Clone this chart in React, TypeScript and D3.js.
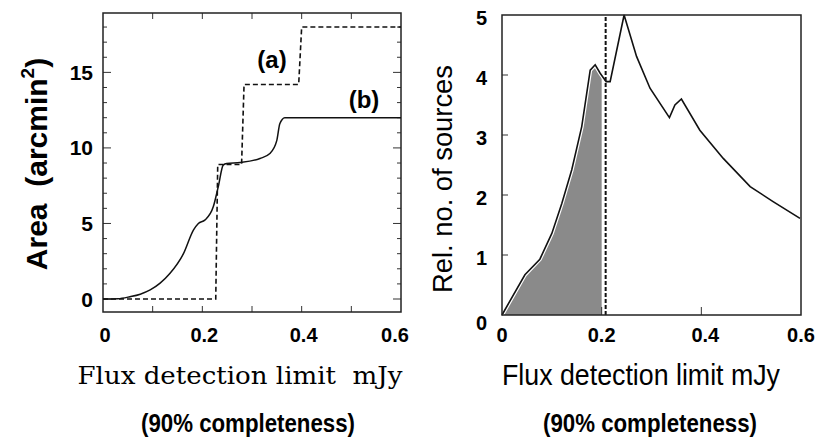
import React from "react";
import * as d3 from "d3";

// left panel: effective area vs flux limit
const bFlux = [0, 0.03, 0.054, 0.075, 0.095, 0.115, 0.135, 0.162, 0.182, 0.192, 0.205, 0.222, 0.232, 0.242, 0.249, 0.276, 0.316, 0.336, 0.35, 0.356, 0.366, 0.6];
const bArea = [0, 0.02, 0.15, 0.32, 0.6, 1.05, 1.7, 3.0, 4.56, 5.0, 5.22, 6.1, 7.42, 8.86, 8.97, 9.03, 9.3, 9.63, 10.5, 11.6, 12.0, 12.0];
const aFlux = [0, 0.227, 0.231, 0.279, 0.284, 0.394, 0.4, 0.6];
const aArea = [0, 0, 8.9, 8.9, 14.2, 14.2, 18.0, 18.0];
const leftXTicks = [0, 0.2, 0.4, 0.6];
const leftYTicks = [0, 5, 10, 15];

// right panel: relative number of sources
const relFlux = [0, 0.046, 0.076, 0.1, 0.12, 0.14, 0.16, 0.177, 0.187, 0.197, 0.209, 0.217, 0.245, 0.27, 0.297, 0.336, 0.347, 0.36, 0.397, 0.444, 0.498, 0.544, 0.598];
const relCount = [0, 0.67, 0.93, 1.36, 1.86, 2.42, 3.14, 4.08, 4.17, 4.03, 3.89, 3.89, 5.0, 4.31, 3.78, 3.29, 3.5, 3.6, 3.08, 2.61, 2.14, 1.89, 1.61];
const rightXTicks = [0, 0.2, 0.4, 0.6];
const rightYTicks = [0, 1, 2, 3, 4, 5];
const shadeEnd = 0.2;
const cutFlux = 0.208;

const sans = "'Liberation Sans', Arial, sans-serif";
const narrow = "'Liberation Sans Narrow', 'Liberation Sans', sans-serif";

export default function App() {
  const xL = d3.scaleLinear().domain([0, 0.6]).range([103, 401]);
  const yL = d3.scaleLinear().domain([-0.86, 18.93]).range([312, 13]);
  const xR = d3.scaleLinear().domain([0, 0.6]).range([502, 801]);
  const yR = d3.scaleLinear().domain([0, 5]).range([315, 15]);

  const bLine = d3
    .line<number>()
    .x((d, i) => xL(bFlux[i]))
    .y((d) => yL(d))
    .curve(d3.curveMonotoneX);
  const aLine = d3
    .line<number>()
    .x((d, i) => xL(aFlux[i]))
    .y((d) => yL(d));

  const relLine = d3
    .line<number>()
    .x((d, i) => xR(relFlux[i]))
    .y((d) => yR(d));
  const relArea = d3
    .area<number>()
    .x((d, i) => xR(relFlux[i]))
    .y0(yR(0))
    .y1((d) => yR(d));

  const minorY = d3.range(0, 19);
  const minorX = d3.range(1, 6).map((v) => v / 10);

  return (
    <svg width={815} height={437} style={{ display: "block", position: "absolute", left: 0, top: 0, background: "#fff" }}>
      <defs>
        <clipPath id="shade">
          <rect x={xR(0)} y={yR(5)} width={xR(shadeEnd) - xR(0)} height={yR(0) - yR(5)} />
        </clipPath>
      </defs>

      {/* ---------- left panel ---------- */}
      <g>
        {minorY.map((v) => {
          const len = v % 5 === 0 ? 8 : 4;
          return (
            <g key={"ly" + v} stroke="#333" strokeWidth={1}>
              <line x1={xL(0)} x2={xL(0) + len} y1={yL(v)} y2={yL(v)} />
              <line x1={xL(0.6)} x2={xL(0.6) - len} y1={yL(v)} y2={yL(v)} />
            </g>
          );
        })}
        {minorX.map((v) => (
          <g key={"lx" + v} stroke="#333" strokeWidth={1}>
            <line x1={xL(v)} x2={xL(v)} y1={yL.range()[0]} y2={yL.range()[0] - 6} />
            <line x1={xL(v)} x2={xL(v)} y1={yL.range()[1]} y2={yL.range()[1] + 6} />
          </g>
        ))}
        <rect x={xL(0)} y={yL.range()[1]} width={xL(0.6) - xL(0)} height={yL.range()[0] - yL.range()[1]} fill="none" stroke="#222" strokeWidth={1.5} />
        <path d={aLine(aArea) || ""} fill="none" stroke="#111" strokeWidth={1.6} strokeDasharray="5,3" />
        <path d={bLine(bArea) || ""} fill="none" stroke="#111" strokeWidth={1.5} />
        <text x={272} y={68} textAnchor="middle" fontFamily={sans} fontWeight="bold" fontSize={24}>(a)</text>
        <text x={364} y={108} textAnchor="middle" fontFamily={sans} fontWeight="bold" fontSize={24}>(b)</text>
        {leftYTicks.map((v) => (
          <text key={"lyt" + v} x={93} y={yL(v)} dy="0.36em" textAnchor="end" fontFamily={sans} fontWeight="bold" fontSize={21}>{v}</text>
        ))}
        {leftXTicks.map((v) => (
          <text key={"lxt" + v} x={xL(v) + (v === 0.6 ? -6 : 2)} y={335} dy="0.36em" textAnchor="middle" fontFamily={sans} fontWeight="bold" fontSize={20}>{v}</text>
        ))}
        <text transform="translate(47,164) rotate(-90)" textAnchor="middle" fontFamily={sans} fontWeight="bold" fontSize={30} xmlSpace="preserve">
          {"Area  (arcmin"}
          <tspan fontSize={19} dy={-13}>2</tspan>
          <tspan dy={13}>)</tspan>
        </text>
        <text x={240} y={384} textAnchor="middle" fontFamily="'DejaVu Serif', serif" fontSize={25} textLength={325} lengthAdjust="spacingAndGlyphs" xmlSpace="preserve">
          {"Flux detection limit  mJy"}
        </text>
        <text x={248} y={432} textAnchor="middle" fontFamily={narrow} fontWeight="bold" fontSize={25} textLength={214} lengthAdjust="spacingAndGlyphs">
          (90% completeness)
        </text>
      </g>

      {/* ---------- right panel ---------- */}
      <g>
        <path d={relArea(relCount) || ""} fill="#8a8a8a" clipPath="url(#shade)" />
        <path d={relLine(relCount) || ""} fill="none" stroke="#fff" strokeWidth={4} />
        <path d={relLine(relCount) || ""} fill="none" stroke="#111" strokeWidth={1.6} />
        <line x1={xR(cutFlux)} x2={xR(cutFlux)} y1={yR(0)} y2={yR(5)} stroke="#111" strokeWidth={2} strokeDasharray="4,2" />
        {rightYTicks.filter((v) => v > 0 && v < 5).map((v) => (
          <line key={"ryk" + v} x1={xR(0)} x2={xR(0) + 6} y1={yR(v)} y2={yR(v)} stroke="#333" strokeWidth={1} />
        ))}
        {[0.2, 0.4].map((v) => (
          <line key={"rxk" + v} x1={xR(v)} x2={xR(v)} y1={yR(0)} y2={yR(0) - 8} stroke="#333" strokeWidth={1} />
        ))}
        <rect x={xR(0)} y={yR(5)} width={xR(0.6) - xR(0)} height={yR(0) - yR(5)} fill="none" stroke="#222" strokeWidth={1.5} />
        {rightYTicks.map((v) => (
          <text key={"ryt" + v} x={487} y={yR(v) + (v === 0 ? 8 : 3)} dy="0.36em" textAnchor="end" fontFamily={sans} fontWeight="bold" fontSize={20}>{v}</text>
        ))}
        {rightXTicks.map((v) => (
          <text key={"rxt" + v} x={xR(v) + (v === 0.4 ? 4 : 0)} y={335} dy="0.36em" textAnchor="middle" fontFamily={sans} fontWeight="bold" fontSize={20}>{v}</text>
        ))}
        <text transform="translate(452,179) rotate(-90)" textAnchor="middle" fontFamily={sans} fontSize={28} textLength={228} lengthAdjust="spacingAndGlyphs">
          Rel. no. of sources
        </text>
        <text x={641} y={385} textAnchor="middle" fontFamily={narrow} fontSize={30} textLength={278} lengthAdjust="spacingAndGlyphs">
          Flux detection limit mJy
        </text>
        <text x={650} y={432} textAnchor="middle" fontFamily={narrow} fontWeight="bold" fontSize={25} textLength={214} lengthAdjust="spacingAndGlyphs">
          (90% completeness)
        </text>
      </g>
    </svg>
  );
}
